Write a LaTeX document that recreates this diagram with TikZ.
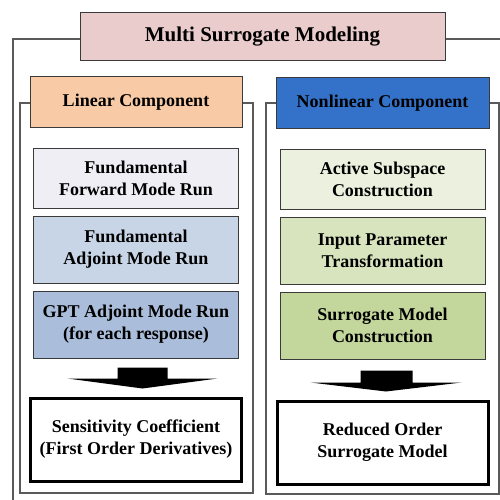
\documentclass[tikz,border=0pt]{standalone}
\usepackage{fontspec}
\setmainfont{Liberation Serif}
\usepackage{xcolor}
\usetikzlibrary{positioning, calc}
\definecolor{titlepink}{HTML}{EBCCCC}
\definecolor{linpeach}{HTML}{F8CBA6}
\definecolor{nonlinblue}{HTML}{3472C9}
\definecolor{linA}{HTML}{EFEEF5}
\definecolor{linB}{HTML}{C8D5E7}
\definecolor{linC}{HTML}{AABDDA}
\definecolor{nlA}{HTML}{EBF1DE}
\definecolor{nlB}{HTML}{D7E4BD}
\definecolor{nlC}{HTML}{C3D69B}
\definecolor{edgegray}{HTML}{3A3A3A}
\definecolor{framegray}{HTML}{5A5A5A}

\begin{document}
\begin{tikzpicture}[
  x=1pt, y=-1pt,
  node distance=7pt,
  hdr/.style={rectangle, draw=edgegray, line width=1pt,
              minimum width=212pt, minimum height=50pt,
              font=\fontsize{18}{22}\selectfont\bfseries, align=center},
  stepbox/.style={rectangle, draw=edgegray, line width=1pt,
                  minimum width=205pt, minimum height=67pt,
                  font=\fontsize{18}{22}\selectfont\bfseries, align=center},
  resbox/.style={rectangle, draw=black, line width=3pt, fill=white,
                 minimum width=211pt, minimum height=83pt,
                 font=\fontsize{18}{22}\selectfont\bfseries, align=center},
  frame/.style={draw=framegray, line width=1.2pt},
  blockarr/.style={fill=black}
]
\useasboundingbox (0,0) rectangle (500,500);

% frames behind the boxes
\draw[frame] (13,510) |- (510,39);
\draw[frame] (20,103) rectangle (253,493);
\draw[frame] (266,103) rectangle (499,494);

\node[hdr, fill=titlepink, minimum width=365pt, minimum height=48pt,
      font=\fontsize{21}{24}\selectfont\bfseries] (title) at (262.5,37) {Multi Surrogate Modeling};
\node[hdr, fill=linpeach] (lin) at (136,102) {Linear Component};
\node[hdr, fill=nonlinblue, minimum width=213pt] (nonlin) at (382.5,103) {Nonlinear Component};

% linear side
\node[stepbox, fill=linA, minimum height=60pt, below=20pt of lin] (fwd) {Fundamental\\Forward Mode Run};
\node[stepbox, fill=linB, below=of fwd] (adj) {Fundamental\\Adjoint Mode Run};
\node[stepbox, fill=linC, below=of adj] (gpt) {GPT Adjoint Mode Run\\(for each response)};
\node[resbox, below=38pt of gpt] (sens) {Sensitivity Coefficient\\(First Order Derivatives)};

% nonlinear side
\node[stepbox, fill=nlA, minimum height=60pt, below=20pt of nonlin] (asub) {Active Subspace\\Construction};
\node[stepbox, fill=nlB, below=of asub] (ipt) {Input Parameter\\Transformation};
\node[stepbox, fill=nlC, below=of ipt] (surr) {Surrogate Model\\Construction};
\node[resbox, below=40pt of surr] (rom) {Reduced Order\\Surrogate Model};

% block arrows
\fill[blockarr] ($(gpt.south)+(-18.5,9)$) -- ++(50,0) -- ++(0,11) -- ++(50,0)
  -- ($(sens.north)+(6.5,-8)$) -- ($(gpt.south)+(-68.5,20)$) -- ++(50,0) -- cycle;
\fill[blockarr] ($(surr.south)+(-22,11)$) -- ++(52,0) -- ++(0,12) -- ++(49,0)
  -- ($(rom.north)+(3.5,-8)$) -- ($(surr.south)+(-72,23)$) -- ++(50,0) -- cycle;
\end{tikzpicture}
\end{document}
